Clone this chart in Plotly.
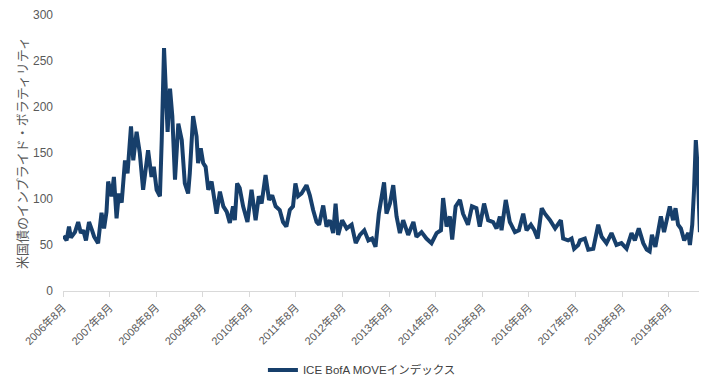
import plotly.graph_objects as go

dates = [
    "2006-08-03", "2006-08-29", "2006-09-17", "2006-10-02", "2006-11-03", "2006-11-28", "2006-12-19",
    "2007-01-07", "2007-01-28", "2007-02-21", "2007-03-17", "2007-04-02", "2007-05-03", "2007-05-30",
    "2007-06-19", "2007-07-08", "2007-07-21", "2007-08-17", "2007-09-04", "2007-09-25", "2007-10-13",
    "2007-11-04", "2007-11-30", "2007-12-20", "2008-01-16", "2008-02-03", "2008-02-29", "2008-03-25",
    "2008-04-20", "2008-05-29", "2008-06-25", "2008-07-13", "2008-08-04", "2008-08-30", "2008-09-13",
    "2008-10-01", "2008-10-29", "2008-11-17", "2008-12-05", "2008-12-26", "2009-01-21", "2009-02-17",
    "2009-03-13", "2009-04-08", "2009-04-21", "2009-05-17", "2009-06-13", "2009-06-25", "2009-07-16",
    "2009-08-04", "2009-08-23", "2009-09-13", "2009-10-09", "2009-10-29", "2009-11-17", "2009-12-13",
    "2010-01-09", "2010-02-05", "2010-03-01", "2010-03-26", "2010-04-09", "2010-04-27", "2010-05-17",
    "2010-06-13", "2010-07-17", "2010-08-18", "2010-09-19", "2010-10-14", "2010-11-05", "2010-12-06",
    "2011-01-02", "2011-01-27", "2011-02-23", "2011-03-27", "2011-04-22", "2011-05-18", "2011-06-14",
    "2011-07-09", "2011-07-28", "2011-08-18", "2011-09-14", "2011-10-23", "2011-11-18", "2011-12-14",
    "2012-01-10", "2012-01-30", "2012-03-02", "2012-03-28", "2012-04-23", "2012-05-19", "2012-06-07",
    "2012-06-27", "2012-07-28", "2012-09-02", "2012-10-11", "2012-11-12", "2012-12-15", "2013-01-18",
    "2013-02-19", "2013-03-20", "2013-04-16", "2013-05-12", "2013-06-02", "2013-06-22", "2013-07-11",
    "2013-08-07", "2013-09-02", "2013-09-28", "2013-10-24", "2013-11-19", "2013-12-28", "2014-02-07",
    "2014-03-03", "2014-04-12", "2014-05-20", "2014-06-29", "2014-08-08", "2014-09-11", "2014-09-28",
    "2014-10-25", "2014-11-20", "2014-12-08", "2015-01-04", "2015-02-07", "2015-03-03", "2015-04-11",
    "2015-05-12", "2015-06-16", "2015-07-12", "2015-08-15", "2015-09-16", "2015-10-25", "2015-11-21",
    "2015-12-17", "2015-12-30", "2016-02-01", "2016-03-04", "2016-04-13", "2016-05-14", "2016-06-17",
    "2016-07-13", "2016-08-16", "2016-09-12", "2016-10-08", "2016-11-09", "2016-12-04", "2017-01-13",
    "2017-02-22", "2017-04-08", "2017-04-26", "2017-06-04", "2017-07-01", "2017-07-21", "2017-08-22",
    "2017-09-05", "2017-10-13", "2017-11-09", "2017-12-18", "2018-01-26", "2018-02-22", "2018-04-01",
    "2018-05-10", "2018-06-18", "2018-07-27", "2018-09-05", "2018-10-14", "2018-11-09", "2018-12-10",
    "2019-01-14", "2019-02-10", "2019-03-05", "2019-03-23", "2019-04-19", "2019-06-01", "2019-06-26",
    "2019-08-10", "2019-09-05", "2019-09-24", "2019-10-14", "2019-11-05", "2019-12-01", "2020-01-02",
    "2020-01-15", "2020-02-02", "2020-02-16", "2020-03-01", "2020-03-15", "2020-03-25", "2020-04-02",
]

move_index = [
    60, 55, 70, 58, 64, 75, 63,
    66, 55, 75, 66, 59, 52, 85,
    68, 86, 119, 103, 124, 79, 106,
    96, 142, 128, 179, 142, 173, 150,
    110, 153, 124, 135, 110, 103, 164,
    264, 173, 220, 190, 121, 182, 164,
    117, 106, 128, 190, 168, 139, 155,
    139, 135, 110, 119, 99, 84, 108,
    92, 86, 74, 92, 77, 117, 112,
    92, 75, 110, 77, 103, 95, 126,
    99, 104, 92, 88, 75, 70, 88,
    92, 117, 103, 106, 115, 104, 88,
    75, 72, 93, 70, 77, 63, 95,
    61, 77, 68, 72, 52, 61, 66,
    55, 57, 48, 84, 99, 118, 84,
    95, 115, 81, 63, 77, 61, 75,
    59, 64, 57, 52, 63, 66, 101,
    70, 81, 56, 92, 99, 84, 72,
    92, 90, 70, 95, 77, 75, 68,
    81, 66, 99, 75, 64, 66, 84,
    66, 72, 66, 57, 90, 84, 77,
    68, 77, 57, 55, 57, 46, 50,
    55, 57, 45, 46, 72, 59, 52,
    63, 50, 52, 46, 63, 55, 68,
    52, 45, 43, 61, 48, 81, 64,
    92, 77, 90, 72, 68, 55, 63,
    50, 72, 110, 164, 135, 92, 64,
]

tick_dates = [f"{y}-08-01" for y in range(2006, 2020)]
tick_labels = [f"{y}年8月" for y in range(2006, 2020)]
y_ticks = [0, 50, 100, 150, 200, 250, 300]

series_name = "ICE BofA MOVEインデックス"
y_title = "米国債のインプライド・ボラティリティ"

fig = go.Figure()
fig.add_trace(go.Scatter(
    x=dates, y=move_index, mode="lines", name=series_name,
    line=dict(color="#173F6B", width=4),
))

font_family = "Liberation Sans, Arial, Noto Sans CJK JP, sans-serif"

# page body has an 8px default margin; margins compensate for it
fig.update_layout(
    width=720, height=386,
    margin=dict(l=55, r=29, t=7, b=103, autoexpand=False),
    paper_bgcolor="white", plot_bgcolor="white",
    font=dict(family=font_family, color="#595959", size=12),
    showlegend=True,
    legend=dict(orientation="h", x=0.47, xanchor="center", y=-0.286, yanchor="middle",
                font=dict(size=11.5, color="#404040")),
    xaxis=dict(
        type="date", range=["2006-08-01", "2020-03-26"], automargin=False,
        tickmode="array", tickvals=tick_dates, ticktext=tick_labels,
        tickangle=-45, tickfont=dict(size=11, color="#595959"),
        showgrid=False, showline=True, linecolor="#D9D9D9", linewidth=1,
        ticks="outside", ticklen=5, tickcolor="#D9D9D9", zeroline=False,
    ),
    yaxis=dict(
        range=[0, 300], tickmode="array", tickvals=y_ticks, automargin=False,
        showgrid=False, showline=False, zeroline=False, ticks="",
        ticklabelstandoff=9,
        tickfont=dict(size=12, color="#595959"),
    ),
    annotations=[dict(
        text=y_title, textangle=-90, showarrow=False,
        xref="paper", yref="paper", x=-0.0645, y=0.5, xanchor="center", yanchor="middle",
        font=dict(size=13, color="#595959"),
    )],
)

fig.write_html("out.html")
